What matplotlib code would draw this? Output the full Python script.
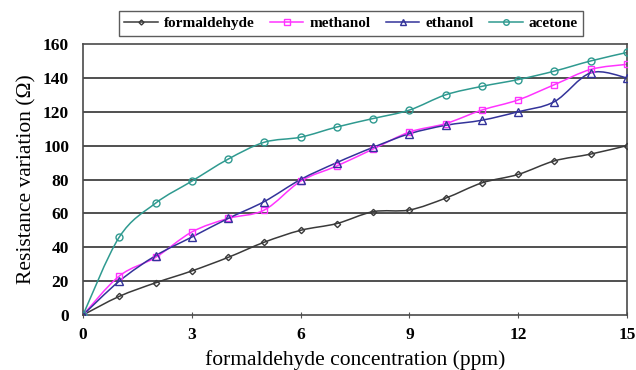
import numpy as np
import matplotlib
matplotlib.use("Agg")
import matplotlib.pyplot as plt
from matplotlib.path import Path
from matplotlib.patches import PathPatch
from matplotlib.lines import Line2D

# concentration steps (ppm)
conc = [0, 1, 2, 3, 4, 5, 6, 7, 8, 9, 10, 11, 12, 13, 14, 15]

# resistance variation (ohm) per gas
formaldehyde = [0, 11, 19, 26, 34, 43, 50, 54, 61, 62, 69, 78, 83, 91, 95, 100]
methanol = [0, 23, 34, 49, 57, 62, 79, 88, 98, 108, 113, 121, 127, 136, 145, 148]
ethanol = [0, 20, 35, 46, 57, 67, 80, 90, 99, 107, 112, 115, 120, 126, 143, 140]
acetone = [0, 46, 66, 79, 92, 102, 105, 111, 116, 121, 130, 135, 139, 144, 150, 155]

series = [
    ("formaldehyde", formaldehyde, "#3a3a3a", "D", 3.2),
    ("methanol", methanol, "#ff33ff", "s", 5.0),
    ("ethanol", ethanol, "#33339a", "^", 5.5),
    ("acetone", acetone, "#2f9a90", "o", 5.0),
]

plt.rcParams["font.family"] = ["Liberation Serif", "DejaVu Serif"]


def smooth_path(xs, ys, tension=1 / 6):
    """Catmull-Rom style bezier through the points (like a spreadsheet smoothed line)."""
    xs = np.asarray(xs, float)
    ys = np.asarray(ys, float)
    verts = [(xs[0], ys[0])]
    codes = [Path.MOVETO]
    n = len(xs)
    for i in range(n - 1):
        p0 = (xs[max(i - 1, 0)], ys[max(i - 1, 0)])
        p1 = (xs[i], ys[i])
        p2 = (xs[i + 1], ys[i + 1])
        p3 = (xs[min(i + 2, n - 1)], ys[min(i + 2, n - 1)])
        c1 = (p1[0] + (p2[0] - p0[0]) * tension, p1[1] + (p2[1] - p0[1]) * tension)
        c2 = (p2[0] - (p3[0] - p1[0]) * tension, p2[1] - (p3[1] - p1[1]) * tension)
        verts += [c1, c2, p2]
        codes += [Path.CURVE4] * 3
    return Path(verts, codes)


fig = plt.figure(figsize=(6.36, 3.70), dpi=100)
ax = fig.add_axes([83 / 636, 1 - 315 / 370, (627 - 83) / 636, (315 - 44) / 370])

for y in range(20, 160, 20):
    ax.axhline(y, color="#505050", lw=1.4, zorder=0)

handles = []
for name, vals, color, marker, ms in series:
    ax.add_patch(PathPatch(smooth_path(conc, vals), facecolor="none",
                           edgecolor=color, lw=1.1, zorder=2))
    ax.plot(conc, vals, ls="none", marker=marker, ms=ms, mfc="none",
            mec=color, mew=1.0, zorder=3)
    handles.append(Line2D([], [], color=color, lw=1.1, marker=marker,
                          ms=ms * 0.8, mfc="none", mec=color, mew=1.0))

ax.set_xlim(0, 15)
ax.set_ylim(0, 160)
ax.set_xticks([0, 3, 6, 9, 12, 15])
ax.set_yticks(range(0, 161, 20))
ax.tick_params(axis="x", direction="inout", length=5, color="#555555",
               labelsize=12.5, pad=6)
ax.tick_params(axis="y", length=0, labelsize=12.5, pad=10)
for lab in ax.get_xticklabels() + ax.get_yticklabels():
    lab.set_fontweight("bold")
for sp in ax.spines.values():
    sp.set_color("#4a4a4a")
    sp.set_linewidth(1.2)

ax.set_xlabel("formaldehyde concentration (ppm)", fontsize=15.5, labelpad=5)
ax.set_ylabel("Resistance variation (\u03a9)", fontsize=15.5, labelpad=5)

leg = fig.legend(handles, [s[0] for s in series], loc="center", ncol=4,
                 bbox_to_anchor=(351 / 636, 1 - 23.5 / 370), frameon=True,
                 fancybox=False, edgecolor="#333333", handlelength=2.2,
                 handletextpad=0.4, columnspacing=1.0, borderpad=0.35,
                 prop={"family": "Liberation Serif", "weight": "bold", "size": 11})
leg.get_frame().set_linewidth(1.0)

fig.savefig("out.png", dpi=100)
